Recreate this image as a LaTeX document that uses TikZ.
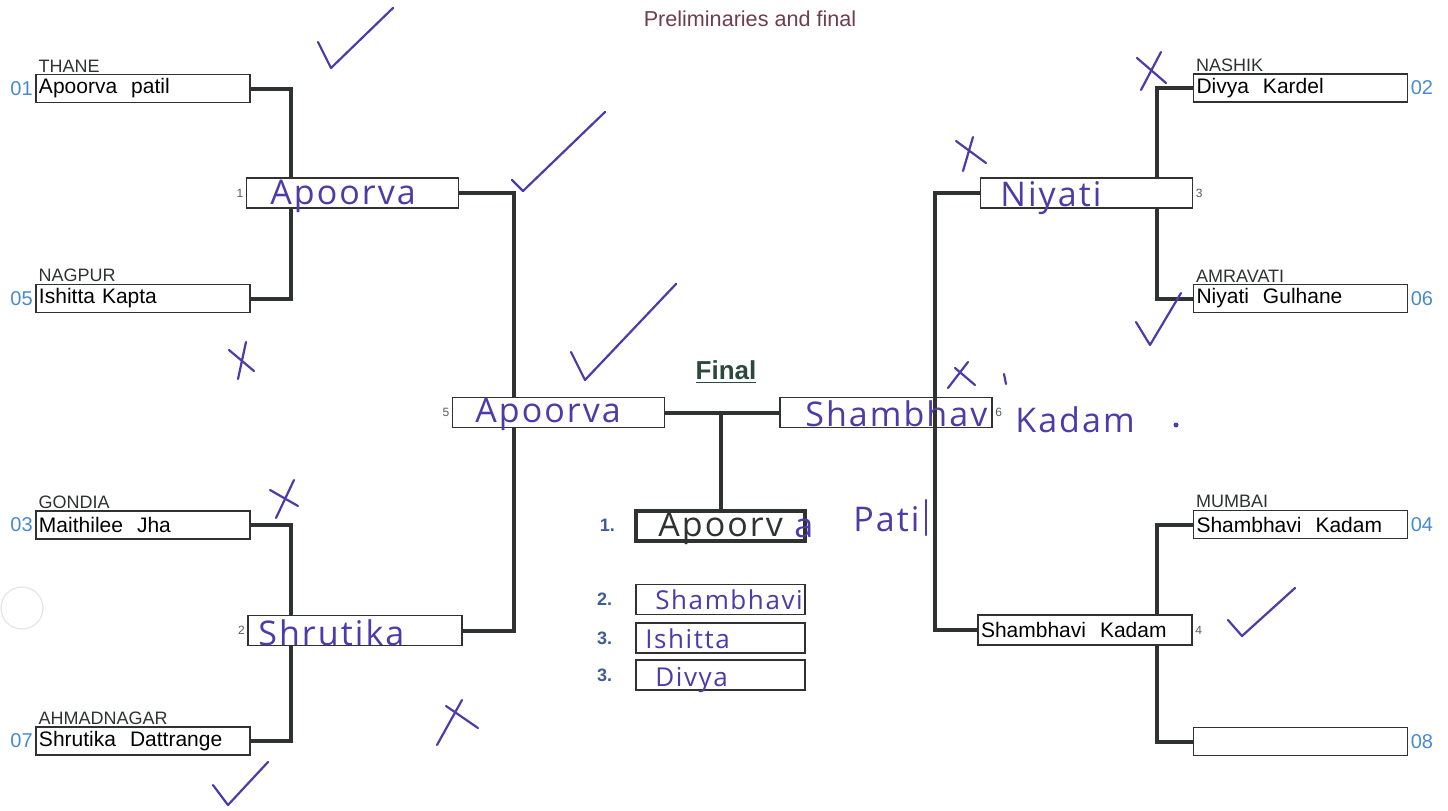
\documentclass[tikz,border=0pt]{standalone}
\usepackage{fontspec}
\setmainfont{Liberation Sans}
\newfontfamily\hand[LetterSpace=6]{Open Sans}
\usetikzlibrary{backgrounds}
\definecolor{ink}{RGB}{78,58,168}
\definecolor{frame}{RGB}{48,50,50}
\definecolor{seedblue}{RGB}{72,138,208}
\definecolor{rankblue}{RGB}{62,92,150}
\definecolor{titlered}{RGB}{112,62,74}
\definecolor{finalgreen}{RGB}{45,72,60}

\begin{document}
\begin{tikzpicture}[x=0.5pt,y=-0.5pt, font=\fontsize{10.5}{11}\selectfont,
  player/.style={draw=frame,line width=.9pt,fill=white,minimum height=14pt,text width=104pt,inner xsep=1.5pt,inner ysep=0pt,align=left},
  winner/.style={draw=frame,line width=.9pt,fill=white,minimum height=15pt,minimum width=106pt,inner sep=0pt},
  podium/.style={draw=frame,line width=.9pt,fill=white,minimum height=15pt,minimum width=84.5pt,inner sep=0pt},
  city/.style={anchor=south west,inner sep=.6pt,font=\fontsize{9}{9}\selectfont,text=frame},
  seed/.style={inner sep=1pt,text=seedblue,font=\fontsize{10}{11}\selectfont},
  tag/.style={inner sep=1pt,font=\fontsize{6}{6}\selectfont,text=frame!80},
  rank/.style={anchor=east,font=\fontsize{9}{10}\selectfont\bfseries,text=rankblue},
  hw/.style={anchor=west,inner sep=0pt,text=ink,font=\hand\fontsize{17}{18}\selectfont},
  link/.style={draw=frame,line width=2pt},
  pen/.style={draw=ink,line width=1.1pt,line cap=round,line join=round}]
\useasboundingbox (0,0) rectangle (1448,810);
\node[text=titlered,font=\fontsize{10.8}{11}\selectfont] (title) at (750,19) {Preliminaries and final};
\draw[black!10,line width=.6pt] (22,608) circle (21);

% first round, left
\node[player] (p01) at (143,88.5) {Apoorva\ \ patil};
\node[player] (p05) at (143,298.5) {Ishitta Kapta};
\node[player] (p03) at (143,525) {Maithilee\ \ Jha};
\node[player] (p07) at (143,741) {Shrutika\ \ Dattrange};
\node[city] at ([xshift=1pt]p01.north west) {THANE};
\node[city] at ([xshift=1pt]p05.north west) {NAGPUR};
\node[city] at ([xshift=1pt]p03.north west) {GONDIA};
\node[city] at ([xshift=1pt]p07.north west) {AHMADNAGAR};
\node[seed,anchor=east] at (p01.west) {01};
\node[seed,anchor=east] at (p05.west) {05};
\node[seed,anchor=east] at (p03.west) {03};
\node[seed,anchor=east] at (p07.west) {07};

% first round, right
\node[player] (p02) at (1300.5,88) {Divya\ \ Kardel};
\node[player] (p06) at (1300.5,298.5) {Niyati\ \ Gulhane};
\node[player] (p04) at (1300.5,524.5) {Shambhavi\ \ Kadam};
\node[player] (p08) at (1300.5,741.5) {};
\node[city] at ([xshift=1pt]p02.north west) {NASHIK};
\node[city] at ([xshift=1pt]p06.north west) {AMRAVATI};
\node[city] at ([xshift=1pt]p04.north west) {MUMBAI};
\node[seed,anchor=west] at (p02.east) {02};
\node[seed,anchor=west] at (p06.east) {06};
\node[seed,anchor=west] at (p04.east) {04};
\node[seed,anchor=west] at (p08.east) {08};

% second round and semi-finals
\node[winner] (r1) at (352.5,193) {};
\node[winner,minimum width=107pt] (r2) at (355,630.5) {};
\node[winner] (r3) at (1086.5,193) {};
\node[player,minimum height=15pt] (r4) at (1085,630) {Shambhavi\ \ Kadam};
\node[winner] (sf5) at (558.5,412.5) {};
\node[winner,fill=none] (sf6) at (886,412.5) {};
\node[tag,anchor=east] at (r1.west) {1};
\node[tag,anchor=east] at (r2.west) {2};
\node[tag,anchor=west] at (r3.east) {3};
\node[tag,anchor=west] at (r4.east) {4};
\node[tag,anchor=east] at (sf5.west) {5};
\node[tag,anchor=west] at (sf6.east) {6};

% final
\node[font=\fontsize{13}{14}\selectfont\bfseries,text=finalgreen] (final) at (726,372) {\underline{Final}};
\node[podium,line width=2pt] (fin1) at (720.5,525.5) {};
\node[podium] (fin2) at (720.5,599.5) {};
\node[podium] (fin3) at (720.5,638) {};
\node[podium] (fin4) at (720.5,675) {};
\node[rank] at ([xshift=-6pt]fin1.west) {1.};
\node[rank] at ([xshift=-8pt]fin2.west) {2.};
\node[rank] at ([xshift=-8pt]fin3.west) {3.};
\node[rank] at ([xshift=-8pt]fin4.west) {3.};

\begin{pgfonlayer}{background}
\draw[link] (p01.east) -- ++(40,0) |- (p05.east);
\draw[link] (p03.east) -- ++(40,0) |- (p07.east);
\draw[link] (p02.west) -- ++(-36,0) |- (p06.west);
\draw[link] (p04.west) -- ++(-36,0) |- (p08.west);
\draw[link] (r1.east) -- ++(55,0) |- (r2.east);
\draw[link] (r3.west) -- ++(-45,0) |- (r4.west);
\draw[link] (sf5.east) -- (sf6.west);
\draw[link] (fin1.north) -- (fin1.north |- sf5.east);
\end{pgfonlayer}

% handwritten entries
\node[hw] (h1) at (270,196) {Apoorva};
\node[hw] (h2) at (258,633) {Shrutika};
\node[hw] (h3) at (1000,198) {Niyati};
\node[hw] (h5) at (475,414) {Apoorva};
\node[hw] (h6) at (805,414) {Shambhav};
\node[hw] (h6b) at (1015,420) {Kadam};
\fill[ink] (1176,425) circle (2.5);
\draw[pen] (1004,374) -- (1006,384);
\node[hw,text=frame] (h7) at (658,528) {Apoorv};
\node[hw] (h7b) at (794,528) {a};
\node[hw] (h7c) at (853,519) {Pati};
\draw[pen] (926,500) -- (926,535);
\node[hw,font=\hand\fontsize{13}{14}\selectfont] (h8) at (655,600) {Shambhavi};
\node[hw,font=\hand\fontsize{13}{14}\selectfont] (h9) at (645,639) {Ishitta};
\node[hw,font=\hand\fontsize{13}{14}\selectfont] (h10) at (655,680) {Divya};

% ticks and crosses
\draw[pen] (318,42) -- (331,68) -- (393,8);
\draw[pen] (512,180) -- (523,191) -- (605,112);
\draw[pen] (571,352) -- (585,380) -- (676,284);
\draw[pen] (213,785) -- (228,805) -- (268,762);
\draw[pen] (1136,322) -- (1150,345) -- (1181,293);
\draw[pen] (1228,620) -- (1242,636) -- (1295,588);
\draw[pen] (229,350) -- (254,371) (246,342) -- (238,379);
\draw[pen] (270,490) -- (298,506) (294,480) -- (276,518);
\draw[pen] (437,745) -- (462,700) (446,706) -- (478,728);
\draw[pen] (1137,58) -- (1166,83) (1161,52) -- (1141,90);
\draw[pen] (956,141) -- (986,163) (973,137) -- (963,171);
\draw[pen] (948,388) -- (968,362) (955,368) -- (975,385);
\end{tikzpicture}
\end{document}
